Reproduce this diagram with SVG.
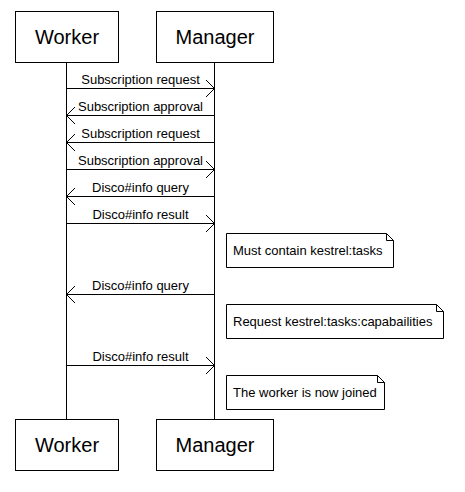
<svg xmlns="http://www.w3.org/2000/svg" width="465" height="492" viewBox="0 0 465 492">
<defs>
<style>
.box{fill:#fff;stroke:#000;stroke-width:1}
.life{stroke:#000;stroke-width:1;fill:none}
.msg{stroke:#000;stroke-width:1;fill:none}
.big{font-family:"Liberation Sans",Arial,sans-serif;font-size:20px;fill:#000;text-anchor:middle}
.lbl{font-family:"Liberation Sans",Arial,sans-serif;font-size:13px;fill:#000;text-anchor:middle}
.note{font-family:"Liberation Sans",Arial,sans-serif;font-size:13px;fill:#000}
</style>
<marker id="ah" markerWidth="12" markerHeight="20" refX="9" refY="9" orient="auto" markerUnits="userSpaceOnUse">
<path d="M0.5,0.5 L9,9 L0.5,17.5" fill="none" stroke="#000" stroke-width="1"/>
</marker>
</defs>
<rect width="465" height="492" fill="#fff"/>
<g id="lifelines">
<line class="life" x1="66.5" y1="62.5" x2="66.5" y2="419.5"/>
<line class="life" x1="214.5" y1="62.5" x2="214.5" y2="419.5"/>
</g>
<g id="worker-top"><rect class="box" x="15.5" y="11.5" width="103" height="51"/><text class="big" x="67" y="44">Worker</text></g>
<g id="manager-top"><rect class="box" x="156.5" y="11.5" width="117" height="51"/><text class="big" x="215" y="44">Manager</text></g>
<g id="worker-bottom"><rect class="box" x="15.5" y="419.5" width="103" height="51"/><text class="big" x="67" y="452">Worker</text></g>
<g id="manager-bottom"><rect class="box" x="156.5" y="419.5" width="117" height="51"/><text class="big" x="215" y="452">Manager</text></g>
<g id="connectors">
<line class="msg" x1="66.5" y1="88.5" x2="214.5" y2="88.5" marker-end="url(#ah)"/>
<text class="lbl" x="140.5" y="84">Subscription request</text>
<line class="msg" x1="214.5" y1="115.5" x2="66.5" y2="115.5" marker-end="url(#ah)"/>
<text class="lbl" x="140.5" y="111">Subscription approval</text>
<line class="msg" x1="214.5" y1="142.5" x2="66.5" y2="142.5" marker-end="url(#ah)"/>
<text class="lbl" x="140.5" y="138">Subscription request</text>
<line class="msg" x1="66.5" y1="169.5" x2="214.5" y2="169.5" marker-end="url(#ah)"/>
<text class="lbl" x="140.5" y="165">Subscription approval</text>
<line class="msg" x1="214.5" y1="196.5" x2="66.5" y2="196.5" marker-end="url(#ah)"/>
<text class="lbl" x="140.5" y="192">Disco#info query</text>
<line class="msg" x1="66.5" y1="223.5" x2="214.5" y2="223.5" marker-end="url(#ah)"/>
<text class="lbl" x="140.5" y="219">Disco#info result</text>
<line class="msg" x1="214.5" y1="294.5" x2="66.5" y2="294.5" marker-end="url(#ah)"/>
<text class="lbl" x="140.5" y="290">Disco#info query</text>
<line class="msg" x1="66.5" y1="365.5" x2="214.5" y2="365.5" marker-end="url(#ah)"/>
<text class="lbl" x="140.5" y="361">Disco#info result</text>
</g>
<g id="note1">
<path class="box" d="M226.5,233.5 H386.5 L393.5,240.5 V267.5 H226.5 Z"/>
<path class="msg" d="M386.5,233.5 V240.5 H393.5"/>
<text class="note" x="233" y="255">Must contain kestrel:tasks</text>
</g>
<g id="note2">
<path class="box" d="M226.5,304.5 H436.5 L443.5,311.5 V338.5 H226.5 Z"/>
<path class="msg" d="M436.5,304.5 V311.5 H443.5"/>
<text class="note" x="233" y="326">Request kestrel:tasks:capabailities</text>
</g>
<g id="note3">
<path class="box" d="M226.5,375.5 H377.5 L384.5,382.5 V409.5 H226.5 Z"/>
<path class="msg" d="M377.5,375.5 V382.5 H384.5"/>
<text class="note" x="233" y="397">The worker is now joined</text>
</g>
</svg>
